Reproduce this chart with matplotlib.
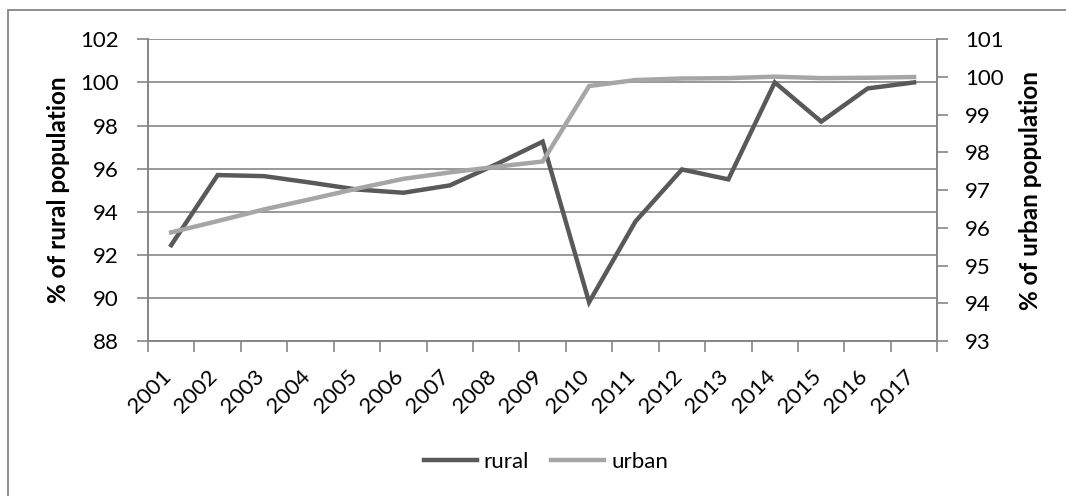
import matplotlib
matplotlib.use("Agg")
import matplotlib.pyplot as plt
from matplotlib.lines import Line2D
from matplotlib.patches import Rectangle
from matplotlib.transforms import ScaledTranslation
import numpy as np

years = ["2001", "2002", "2003", "2004", "2005", "2006", "2007", "2008", "2009",
         "2010", "2011", "2012", "2013", "2014", "2015", "2016", "2017"]
rural = [92.45, 95.70, 95.65, 95.35, 95.03, 94.88, 95.22, 96.20, 97.25,
         89.80, 93.55, 95.96, 95.50, 100.00, 98.18, 99.72, 100.00]
urban = [95.88, 96.18, 96.49, 96.76, 97.04, 97.30, 97.47, 97.62, 97.76,
         99.76, 99.92, 99.96, 99.97, 100.01, 99.97, 99.98, 100.00]

left_ticks = [88, 90, 92, 94, 96, 98, 100, 102]
right_ticks = [93, 94, 95, 96, 97, 98, 99, 100, 101]

DARK = "#595959"
LIGHT = "#a6a6a6"
GRID = "#868686"
FONT = "Lato"
FS = 16
LFS = 17.5

plt.rcParams["font.family"] = [FONT, "DejaVu Sans"]

fig = plt.figure(figsize=(10.66, 4.96), dpi=100)
# outer chart frame (only its top and left edges fall inside the image)
fig.add_artist(Rectangle((8 / 1066, -0.1), 1.2, 1 - 10 / 496 + 0.1,
                         transform=fig.transFigure, fill=False,
                         edgecolor=GRID, linewidth=1.3))

ax = fig.add_axes([148 / 1066, 1 - 341 / 496, (937.3 - 148) / 1066, (341 - 39.3) / 496])
ax2 = ax.twinx()

x = np.arange(len(years))
ax.plot(x, rural, color=DARK, linewidth=3.2, solid_joinstyle="miter", zorder=3)
ax2.plot(x, urban, color=LIGHT, linewidth=3.2, solid_joinstyle="miter", zorder=3)

ax.set_xlim(-0.5, len(years) - 0.5)
ax.set_ylim(left_ticks[0], left_ticks[-1])
ax2.set_ylim(right_ticks[0], right_ticks[-1])

ax.set_yticks(left_ticks)
ax2.set_yticks(right_ticks)
ax.yaxis.grid(True, color=GRID, linewidth=1.2)
ax.set_axisbelow(True)

# category boundaries carry the tick marks, category centres carry the labels
ax.set_xticks(np.arange(-0.5, len(years)), labels=[])
ax.set_xticks(x, minor=True)
ax.set_xticklabels(years, minor=True, rotation=45, ha="right", va="top",
                   fontsize=FS)
ax.tick_params(axis="x", which="major", length=8, width=1.2, color=GRID)
ax.tick_params(axis="x", which="minor", length=0, pad=18)
shift = ScaledTranslation(4 / 100, 0, fig.dpi_scale_trans)
for lbl in ax.get_xticklabels(minor=True):
    lbl.set_transform(lbl.get_transform() + shift)

ax.tick_params(axis="y", length=8, width=1.2, color=GRID, labelsize=FS, pad=13)
ax2.tick_params(axis="y", length=8, width=1.2, color=GRID, labelsize=FS, pad=12)

for a in (ax, ax2):
    a.spines["top"].set_visible(False)
    for s in ("left", "right", "bottom"):
        a.spines[s].set_color(GRID)
        a.spines[s].set_linewidth(1.2)

ax.set_ylabel("% of rural population", fontsize=LFS, fontweight="bold")
ax2.set_ylabel("% of urban population", fontsize=LFS, fontweight="bold")
ax.yaxis.set_label_coords((58 - 148) / 789.3, 0.5)
ax2.yaxis.set_label_coords((1030 - 148) / 789.3, 0.5)
ax.yaxis.label.set_verticalalignment("center")
ax2.yaxis.label.set_verticalalignment("center")

handles = [Line2D([], [], color=DARK, linewidth=3.2),
           Line2D([], [], color=LIGHT, linewidth=3.2)]
fig.legend(handles, ["rural", "urban"], loc="center", bbox_to_anchor=(0.512, 0.069),
           ncol=2, frameon=False, fontsize=FS, handlelength=2.4,
           handletextpad=0.3, columnspacing=1.0)

fig.savefig("out.png", dpi=100)
